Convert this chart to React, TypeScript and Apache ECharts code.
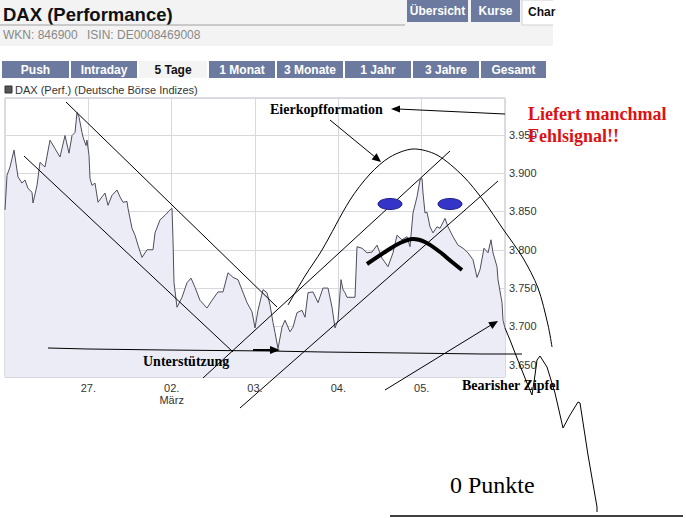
import React, { useEffect, useRef } from "react";
import * as echarts from "echarts";

// Trading-day axis: 0 = start of 26.02., each unit one trading day
const dayLabels = ["", "27.", "02.\nMärz", "03.", "04.", "05.", ""];
const yMin = 3634;
const yMax = 3998;

// [trading-day position, DAX level]
const daxPoints: [number, number][] = [
  [0, 3852], [0.024, 3897], [0.06, 3908], [0.108, 3930], [0.156, 3895], [0.204, 3887],
  [0.24, 3891], [0.276, 3880], [0.324, 3875], [0.336, 3861], [0.384, 3884], [0.42, 3914],
  [0.48, 3908], [0.54, 3943], [0.6, 3932], [0.66, 3921], [0.72, 3949], [0.768, 3926],
  [0.804, 3949], [0.84, 3953], [0.864, 3979], [0.888, 3973], [0.924, 3953], [0.936, 3947],
  [0.972, 3936], [0.984, 3943], [1.008, 3923], [1.02, 3893], [1.044, 3884], [1.08, 3887],
  [1.116, 3862], [1.164, 3869], [1.2, 3874], [1.236, 3858], [1.284, 3871], [1.344, 3878],
  [1.38, 3869], [1.416, 3862], [1.464, 3863], [1.476, 3854], [1.524, 3828], [1.56, 3819],
  [1.596, 3806], [1.644, 3790], [1.704, 3800], [1.776, 3800], [1.8, 3822], [1.86, 3839],
  [1.92, 3845], [1.98, 3852], [2.004, 3854], [2.016, 3813], [2.028, 3757], [2.064, 3725],
  [2.124, 3738], [2.184, 3757], [2.232, 3763], [2.28, 3751], [2.34, 3734], [2.424, 3724],
  [2.484, 3734], [2.556, 3745], [2.616, 3745], [2.676, 3770], [2.736, 3764], [2.796, 3761],
  [2.904, 3731], [2.964, 3719], [3.0, 3698], [3.036, 3721], [3.096, 3748], [3.144, 3744],
  [3.18, 3728], [3.216, 3705], [3.24, 3692], [3.276, 3671], [3.324, 3699], [3.36, 3708],
  [3.42, 3693], [3.456, 3699], [3.504, 3718], [3.564, 3721], [3.6, 3712], [3.636, 3744],
  [3.696, 3745], [3.756, 3731], [3.816, 3750], [3.876, 3750], [3.924, 3725], [3.96, 3698],
  [3.996, 3708], [4.032, 3761], [4.056, 3748], [4.08, 3744], [4.104, 3738], [4.2, 3738],
  [4.224, 3804], [4.284, 3802], [4.344, 3796], [4.404, 3797], [4.464, 3806], [4.524, 3789],
  [4.596, 3778], [4.656, 3796], [4.704, 3819], [4.764, 3813], [4.824, 3817], [4.86, 3804],
  [4.896, 3848], [4.944, 3869], [4.98, 3891], [5.004, 3893], [5.016, 3874], [5.04, 3848],
  [5.064, 3849], [5.1, 3830], [5.136, 3822], [5.184, 3830], [5.22, 3828], [5.28, 3841],
  [5.316, 3830], [5.376, 3817], [5.436, 3806], [5.496, 3802], [5.556, 3796], [5.616, 3787],
  [5.664, 3764], [5.7, 3774], [5.748, 3802], [5.796, 3796], [5.832, 3813], [5.856, 3796],
  [5.904, 3778], [5.916, 3761], [5.964, 3731], [5.976, 3708], [6.0, 3698],
];

const topTabs = ["Übersicht", "Kurse"];
const rangeTabs = ["Push", "Intraday", "5 Tage", "1 Monat", "3 Monate", "1 Jahr", "3 Jahre", "Gesamt"];
const activeRange = "5 Tage";

const fmtDe = (v: number) => {
  const r = Math.round(v);
  if (r % 50 !== 0) return "";
  return Math.floor(r / 1000) + "." + String(r % 1000).padStart(3, "0");
};

const SANS = '"Liberation Sans", Arial, sans-serif';
const SERIF = '"Liberation Serif", "Times New Roman", serif';
const TAB = "#6c7aa0";

function txt(text: string, x: number, y: number, font: string, fill: string, align = "left") {
  return {
    type: "text",
    x,
    y,
    z: 100,
    style: { text, font, fill, align, textAlign: align, verticalAlign: "middle", textVerticalAlign: "middle" },
  };
}
function ln(x1: number, y1: number, x2: number, y2: number, w = 1, color = "#000") {
  return { type: "line", z: 100, shape: { x1, y1, x2, y2 }, style: { stroke: color, lineWidth: w } };
}
function pl(points: number[][], w = 1, smooth = 0) {
  return { type: "polyline", z: 100, shape: { points, smooth }, style: { stroke: "#000", fill: null, lineWidth: w } };
}
function tri(points: number[][]) {
  return { type: "polygon", z: 101, shape: { points }, style: { fill: "#000" } };
}
function rect(x: number, y: number, w: number, h: number, fill: string, stroke?: string) {
  return { type: "rect", z: 90, shape: { x, y, width: w, height: h }, style: { fill, stroke: stroke || null, lineWidth: 1 } };
}

export default function App() {
  const ref = useRef<HTMLDivElement>(null);
  useEffect(() => {
    const chart = echarts.init(ref.current!, null, { renderer: "svg" });

    const graphic: any[] = [];
    // header box
    graphic.push(rect(0, 0, 553, 46, "#f3f3f3"));
    graphic.push(txt("DAX (Performance)", 3, 14, `bold 18.5px ${SANS}`, "#111"));
    graphic.push(ln(0, 25, 405, 25, 1, "#a0a0a0"));
    graphic.push(txt("WKN: 846900", 3, 35, `12px ${SANS}`, "#888"));
    graphic.push(txt("ISIN: DE0008469008", 87, 35, `12px ${SANS}`, "#888"));
    const topX = [[407, 61], [471, 49]];
    topTabs.forEach((t, i) => {
      graphic.push(rect(topX[i][0], 0, topX[i][1], 22, TAB));
      graphic.push(txt(t, topX[i][0] + topX[i][1] / 2, 11, `bold 12px ${SANS}`, "#fff", "center"));
    });
    graphic.push(rect(522, 0, 40, 25, "#ffffff", "#d0d0d0"));
    graphic.push(rect(553, 0, 133, 46, "#ffffff"));
    graphic.push(txt("Char", 528, 12, `bold 12px ${SANS}`, "#111"));

    // range tabs
    const tabStarts = [2, 71, 139, 209, 277, 345, 413, 481];
    const tabW = [67, 66, 68, 66, 66, 66, 66, 65];
    rangeTabs.forEach((t, i) => {
      const active = t === activeRange;
      graphic.push(rect(tabStarts[i], 61, tabW[i], 17, active ? "#f4f4f4" : TAB));
      graphic.push(
        txt(t, tabStarts[i] + tabW[i] / 2, 69.5, `bold 12px ${SANS}`, active ? "#111" : "#fff", "center")
      );
    });

    // legend
    graphic.push(rect(5, 86, 7, 7, "#555", "#333"));
    graphic.push(txt("DAX (Perf.) (Deutsche Börse Indizes)", 15, 90, `11px ${SANS}`, "#333"));

    // down channel
    graphic.push(ln(66, 102, 277, 307));
    graphic.push(ln(24, 156, 233, 352));
    // up channel
    graphic.push(ln(203, 378, 450, 151));
    graphic.push(ln(240, 408, 498, 181));
    // support line
    graphic.push(pl([[48, 348], [88, 349], [166, 350], [270, 351], [323, 352], [405, 353], [483, 354], [522, 354]]));
    graphic.push(ln(253, 350, 272, 350, 2));
    graphic.push(tri([[280, 350], [270, 346], [270, 354]]));
    graphic.push(txt("Unterstützung", 143, 361, `bold 14px ${SERIF}`, "#000"));

    // egg-head arc
    graphic.push(
      pl(
        [[288, 305], [305, 276], [322, 250], [350, 200], [370, 174], [390, 157], [413, 149], [437, 155],
         [463, 176], [483, 200], [503, 229], [523, 258], [538, 288], [548, 325], [552, 347]],
        1,
        0.3
      )
    );
    graphic.push({ type: "ellipse", z: 100, shape: { cx: 390, cy: 204, rx: 12, ry: 5.5 }, style: { fill: "#3434c8", stroke: "#20208a", lineWidth: 1 } });
    graphic.push({ type: "ellipse", z: 100, shape: { cx: 450, cy: 204, rx: 12, ry: 5.5 }, style: { fill: "#3434c8", stroke: "#20208a", lineWidth: 1 } });
    graphic.push(pl([[367, 264], [385, 252], [400, 243], [413, 239], [425, 242], [440, 252], [452, 262], [462, 270]], 4, 0.4));

    graphic.push(txt("Eierkopfformation", 270, 109, `bold 14px ${SERIF}`, "#000"));
    graphic.push(ln(505, 114, 398, 109));
    graphic.push(tri([[391, 109], [400, 105.5], [400, 112.5]]));
    graphic.push(ln(330, 120, 375, 157));
    graphic.push(tri([[381, 162], [371.6, 159.4], [376.6, 153.2]]));

    // bearish tail
    graphic.push(ln(385, 390, 491, 325));
    graphic.push(tri([[498, 321], [492.4, 329.1], [488.2, 322.3]]));
    graphic.push(
      pl([[505, 328], [510, 340], [517, 358], [527, 383], [532, 395], [535, 375], [537, 360], [540, 356],
          [547, 367], [555, 393], [563, 428], [570, 415], [578, 402], [580, 403], [588, 455], [597, 507], [597, 512]])
    );
    graphic.push(txt("Bearisher Zipfel", 462, 385, `bold 14px ${SERIF}`, "#000"));

    graphic.push(txt("Liefert manchmal", 528, 114, `bold 18px ${SERIF}`, "#dd1111"));
    graphic.push(txt("Fehlsignal!!", 528, 136, `bold 18px ${SERIF}`, "#dd1111"));

    graphic.push(txt("0 Punkte", 450, 485, `24px ${SERIF}`, "#000"));
    graphic.push(ln(390, 516, 683, 516, 1.5));

    chart.setOption({
      animation: false,
      backgroundColor: "#ffffff",
      grid: {
        left: 5,
        top: 98,
        width: 500,
        height: 279,
        show: true,
        borderColor: "#b8b8c4",
        borderWidth: 1,
        backgroundColor: "transparent",
      },
      xAxis: {
        type: "value",
        min: 0,
        max: 6,
        interval: 1,
        axisLine: { show: false },
        axisTick: { show: false },
        splitLine: { show: true, lineStyle: { color: "#d8d8de", width: 1 } },
        axisLabel: {
          formatter: (v: number) => dayLabels[Math.round(v)] || "",
          color: "#333",
          fontSize: 11,
          fontFamily: SANS,
          margin: 5,
          lineHeight: 12,
          showMinLabel: false,
          showMaxLabel: false,
        },
      },
      yAxis: {
        type: "value",
        position: "right",
        min: yMin,
        max: yMax,
        splitNumber: 8,
        axisLine: { show: false },
        axisTick: { show: false },
        splitLine: { show: true, lineStyle: { color: "#d8d8de", width: 1 } },
        axisLabel: {
          formatter: fmtDe,
          color: "#333",
          fontSize: 11,
          fontFamily: SANS,
          margin: 4,
          showMinLabel: false,
          showMaxLabel: false,
        },
      },
      series: [
        {
          type: "line",
          data: daxPoints,
          symbol: "none",
          showSymbol: false,
          lineStyle: { color: "#4d4d5c", width: 1 },
          areaStyle: { color: "#ececf7", opacity: 1 },
          z: 2,
        },
      ],
      graphic,
    });
    return () => chart.dispose();
  }, []);
  return (
    <div
      ref={ref}
      style={{ position: "fixed", left: 0, top: 0, width: 686, height: 518, background: "#fff" }}
    />
  );
}
